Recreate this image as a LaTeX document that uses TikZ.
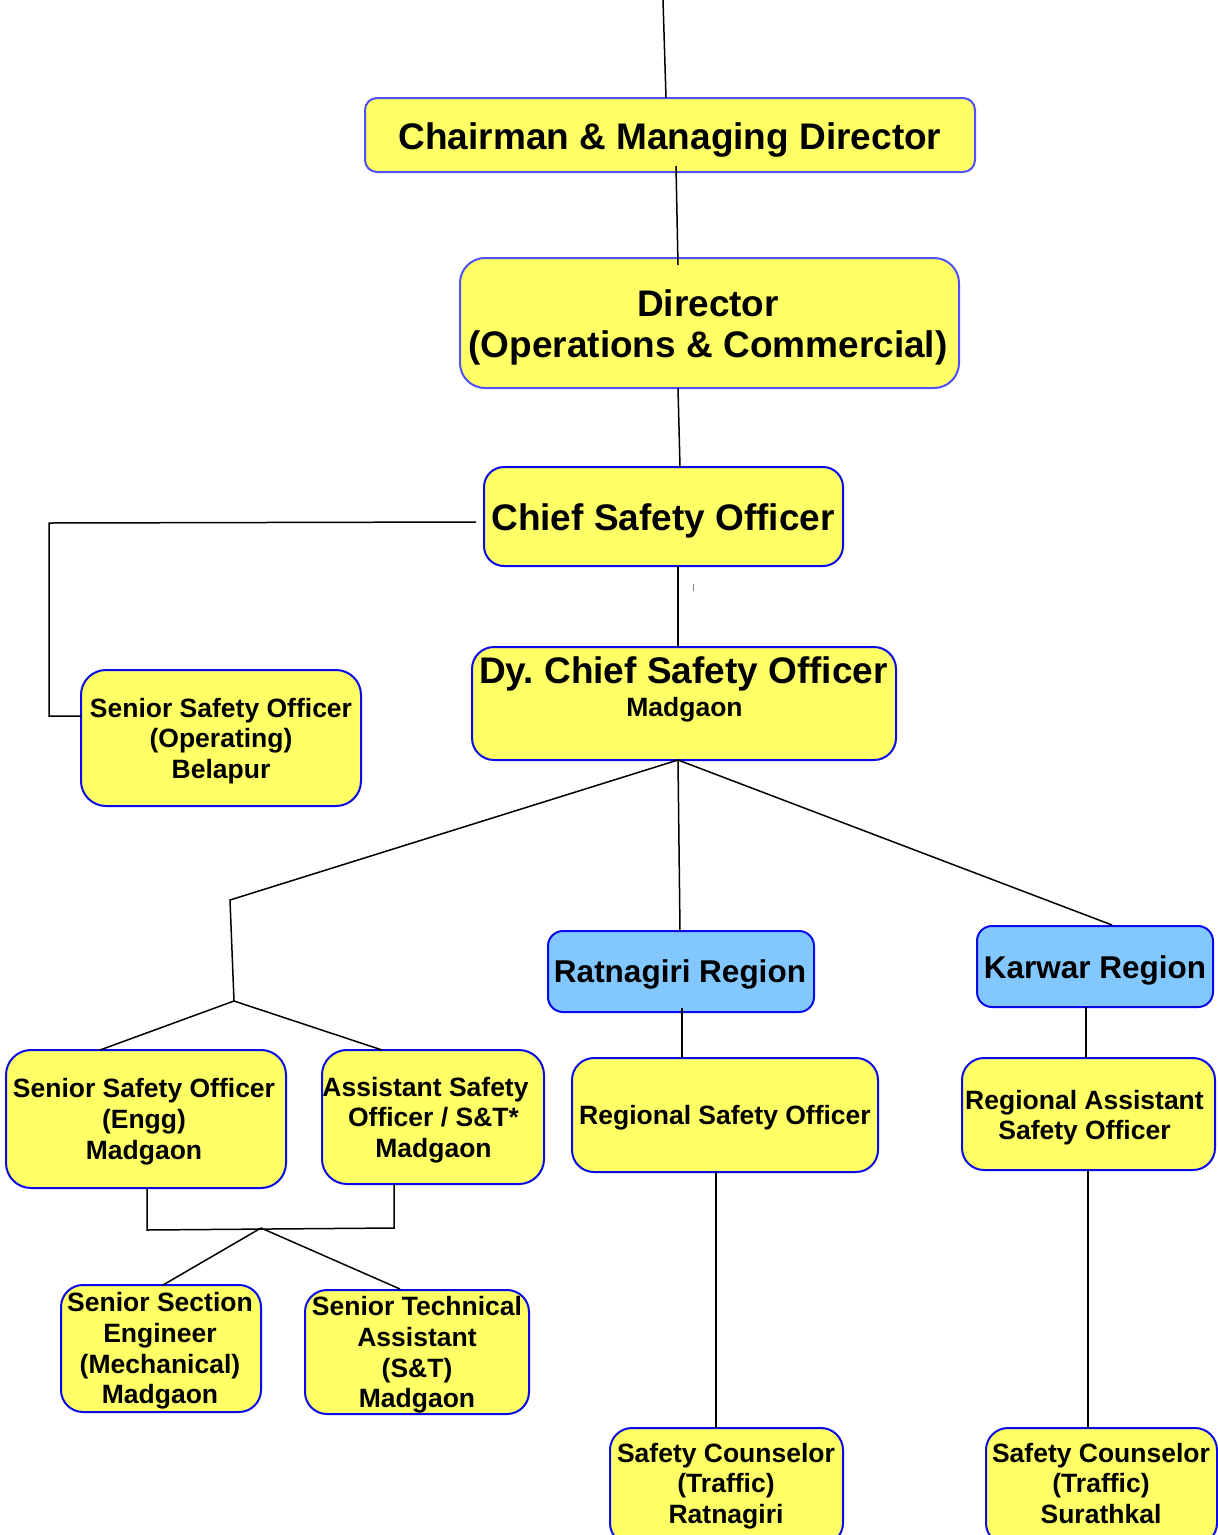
\documentclass[tikz,border=0pt]{standalone}
\usepackage{fontspec}
\setmainfont{Liberation Sans}
\usetikzlibrary{calc}
\definecolor{boxY}{RGB}{255,255,102}
\definecolor{boxB}{RGB}{130,200,255}
\definecolor{bordA}{RGB}{80,80,255}
\definecolor{bordB}{RGB}{10,10,235}
\tikzset{
  ybox/.style={draw=bordB, fill=boxY, line width=2pt, inner sep=0pt, outer sep=0pt},
  bbox/.style={ybox, fill=boxB},
  lbl/.style={align=center, inner sep=0pt, outer sep=0pt, text=black},
  big/.style={lbl, font=\bfseries\fontsize{37}{41}\selectfont},
  mid/.style={lbl, font=\bfseries\fontsize{31.5}{36}\selectfont},
  sml/.style={lbl, font=\bfseries\fontsize{26.5}{30.7}\selectfont},
  conn/.style={line width=1.5pt, black},
}
\frenchspacing
\begin{document}
\begin{tikzpicture}[x=1pt,y=-1pt]
\useasboundingbox (0,0) rectangle (1218,1535);
\clip (0,0) rectangle (1218,1535);
\fill[white] (0,0) rectangle (1218,1535);

% ---------- boxes ----------
\node[ybox, draw=bordA, minimum width=610pt, minimum height=74pt, rounded corners=12pt] (chair) at (670,135) {};
\node[ybox, draw=bordA, minimum width=499pt, minimum height=130pt, rounded corners=25pt] (dir) at (709.5,323) {};
\node[ybox, minimum width=359pt, minimum height=99pt, rounded corners=20pt] (cso) at (663.5,516.5) {};
\node[ybox, minimum width=424pt, minimum height=113pt, rounded corners=22pt] (dcso) at (684,703.5) {};
\node[ybox, minimum width=280pt, minimum height=136pt, rounded corners=25pt] (ssoop) at (221,738) {};
\node[bbox, minimum width=266pt, minimum height=81pt, rounded corners=15pt] (rat) at (681,971.5) {};
\node[bbox, minimum width=236pt, minimum height=81pt, rounded corners=15pt] (kar) at (1095,966.5) {};
\node[ybox, minimum width=280pt, minimum height=138pt, rounded corners=25pt] (ssoe) at (146,1119) {};
\node[ybox, minimum width=222pt, minimum height=134pt, rounded corners=25pt] (asst) at (433,1117) {};
\node[ybox, minimum width=306pt, minimum height=114pt, rounded corners=22pt] (rso) at (725,1115) {};
\node[ybox, minimum width=253pt, minimum height=112pt, rounded corners=22pt] (raso) at (1088.5,1114) {};
\node[ybox, minimum width=200pt, minimum height=127pt, rounded corners=22pt] (sse) at (161,1348.5) {};
\node[ybox, minimum width=224pt, minimum height=124pt, rounded corners=22pt] (sta) at (417,1352) {};
\node[ybox, minimum width=233pt, minimum height=117pt, rounded corners=22pt] (sc1) at (726.5,1486.5) {};
\node[ybox, minimum width=231pt, minimum height=117pt, rounded corners=22pt] (sc2) at (1101.5,1486.5) {};

% ---------- connectors ----------
\coordinate (topin) at (663,0);
\draw[conn] (topin) -- ($(chair.north)+(-4,0)$);
\draw[conn] ($(chair.south)+(6,-6)$) -- ($(dir.north)+(-31.5,7)$);
\draw[conn] ($(dir.south)+(-31.5,0)$) -- ($(cso.north)+(16.5,0)$);
\draw[conn] ($(cso.south)+(14.5,0)$) -- ($(dcso.north)+(-6,0)$);
\coordinate (lc1) at (49,523);
\coordinate (lc2) at (49,716);
\draw[conn] ($(cso.west)+(-8,5.5)$) -- (lc1) -- (lc2) -- (lc2 -| ssoop.west);
\draw[gray, line width=1pt] (693,584) -- (693,591);

\coordinate (j1) at (230,900);
\coordinate (j2) at (234,1001);
\draw[conn] ($(dcso.south)+(-6,0)$) -- (j1) -- (j2);
\draw[conn] (j2) -- ($(ssoe.north)+(-46,0)$);
\draw[conn] (j2) -- ($(asst.north)+(-51,0)$);
\draw[conn] ($(dcso.south)+(-6,0)$) -- ($(rat.north)+(-1,0)$);
\draw[conn] ($(dcso.south)+(-6,0)$) -- ($(kar.north)+(17,-1)$);
\draw[conn] ($(rat.south)+(1,-4)$) -- ($(rso.north)+(-43,0)$);
\draw[conn] ($(kar.south)+(-9,0)$) -- ($(raso.north)+(-2.5,0)$);

\coordinate (b1) at (147,1230);
\coordinate (b2) at (394,1228);
\coordinate (j3) at (261,1228);
\draw[conn] ($(ssoe.south)+(1,0)$) -- (b1) -- (b2) -- ($(asst.south)+(-39,0)$);
\draw[conn] (j3) -- ($(sse.north)+(2,0)$);
\draw[conn] (j3) -- ($(sta.north)+(-17,-1)$);
\draw[conn] ($(rso.south)+(-9,0)$) -- ($(sc1.north)+(-10.5,0)$);
\draw[conn] ($(raso.south)+(-0.5,0)$) -- ($(sc2.north)+(-13.5,0)$);

% ---------- texts ----------
\node[big, anchor=base] (tchair) at (670,149.5) {Chairman \& Managing Director};
\node[big] (tdir) at (708,327.5) {Director\\(Operations \& Commercial)};
\node[big, anchor=base] (tcso) at (663,530.5) {Chief Safety Officer};
\node[big, anchor=base] (tdcso1) at (683.5,683.5) {Dy.\ Chief Safety Officer};
\node[sml, anchor=base] (tdcso2) at (684.5,716.5) {Madgaon};
\node[sml] (tssoop) at (221,741) {Senior Safety Officer\\(Operating)\\Belapur};
\node[mid, anchor=base] (trat) at (680,982.5) {Ratnagiri Region};
\node[mid, anchor=base] (tkar) at (1095,978) {Karwar Region};
\node[sml] (tssoe) at (144,1121.5) {Senior Safety Officer\\(Engg)\\Madgaon};
\node[sml] (tasst) at (433.5,1120) {Assistant Safety\hspace*{16pt}\\Officer / S\&T*\\Madgaon};
\node[sml, anchor=base] (trso) at (725,1124.5) {Regional Safety Officer};
\node[sml] (traso) at (1084.5,1117.5) {Regional Assistant\\Safety Officer};
\node[sml] (tsse) at (160,1351) {Senior Section\\Engineer\\(Mechanical)\\Madgaon};
\node[sml] (tsta) at (417,1355) {Senior Technical\\Assistant\\(S\&T)\\Madgaon};
\node[sml] (tsc1) at (726,1486) {Safety Counselor\\(Traffic)\\Ratnagiri};
\node[sml] (tsc2) at (1101,1483.5) {Safety Counselor\\(Traffic)\\Surathkal};
\end{tikzpicture}
\end{document}
